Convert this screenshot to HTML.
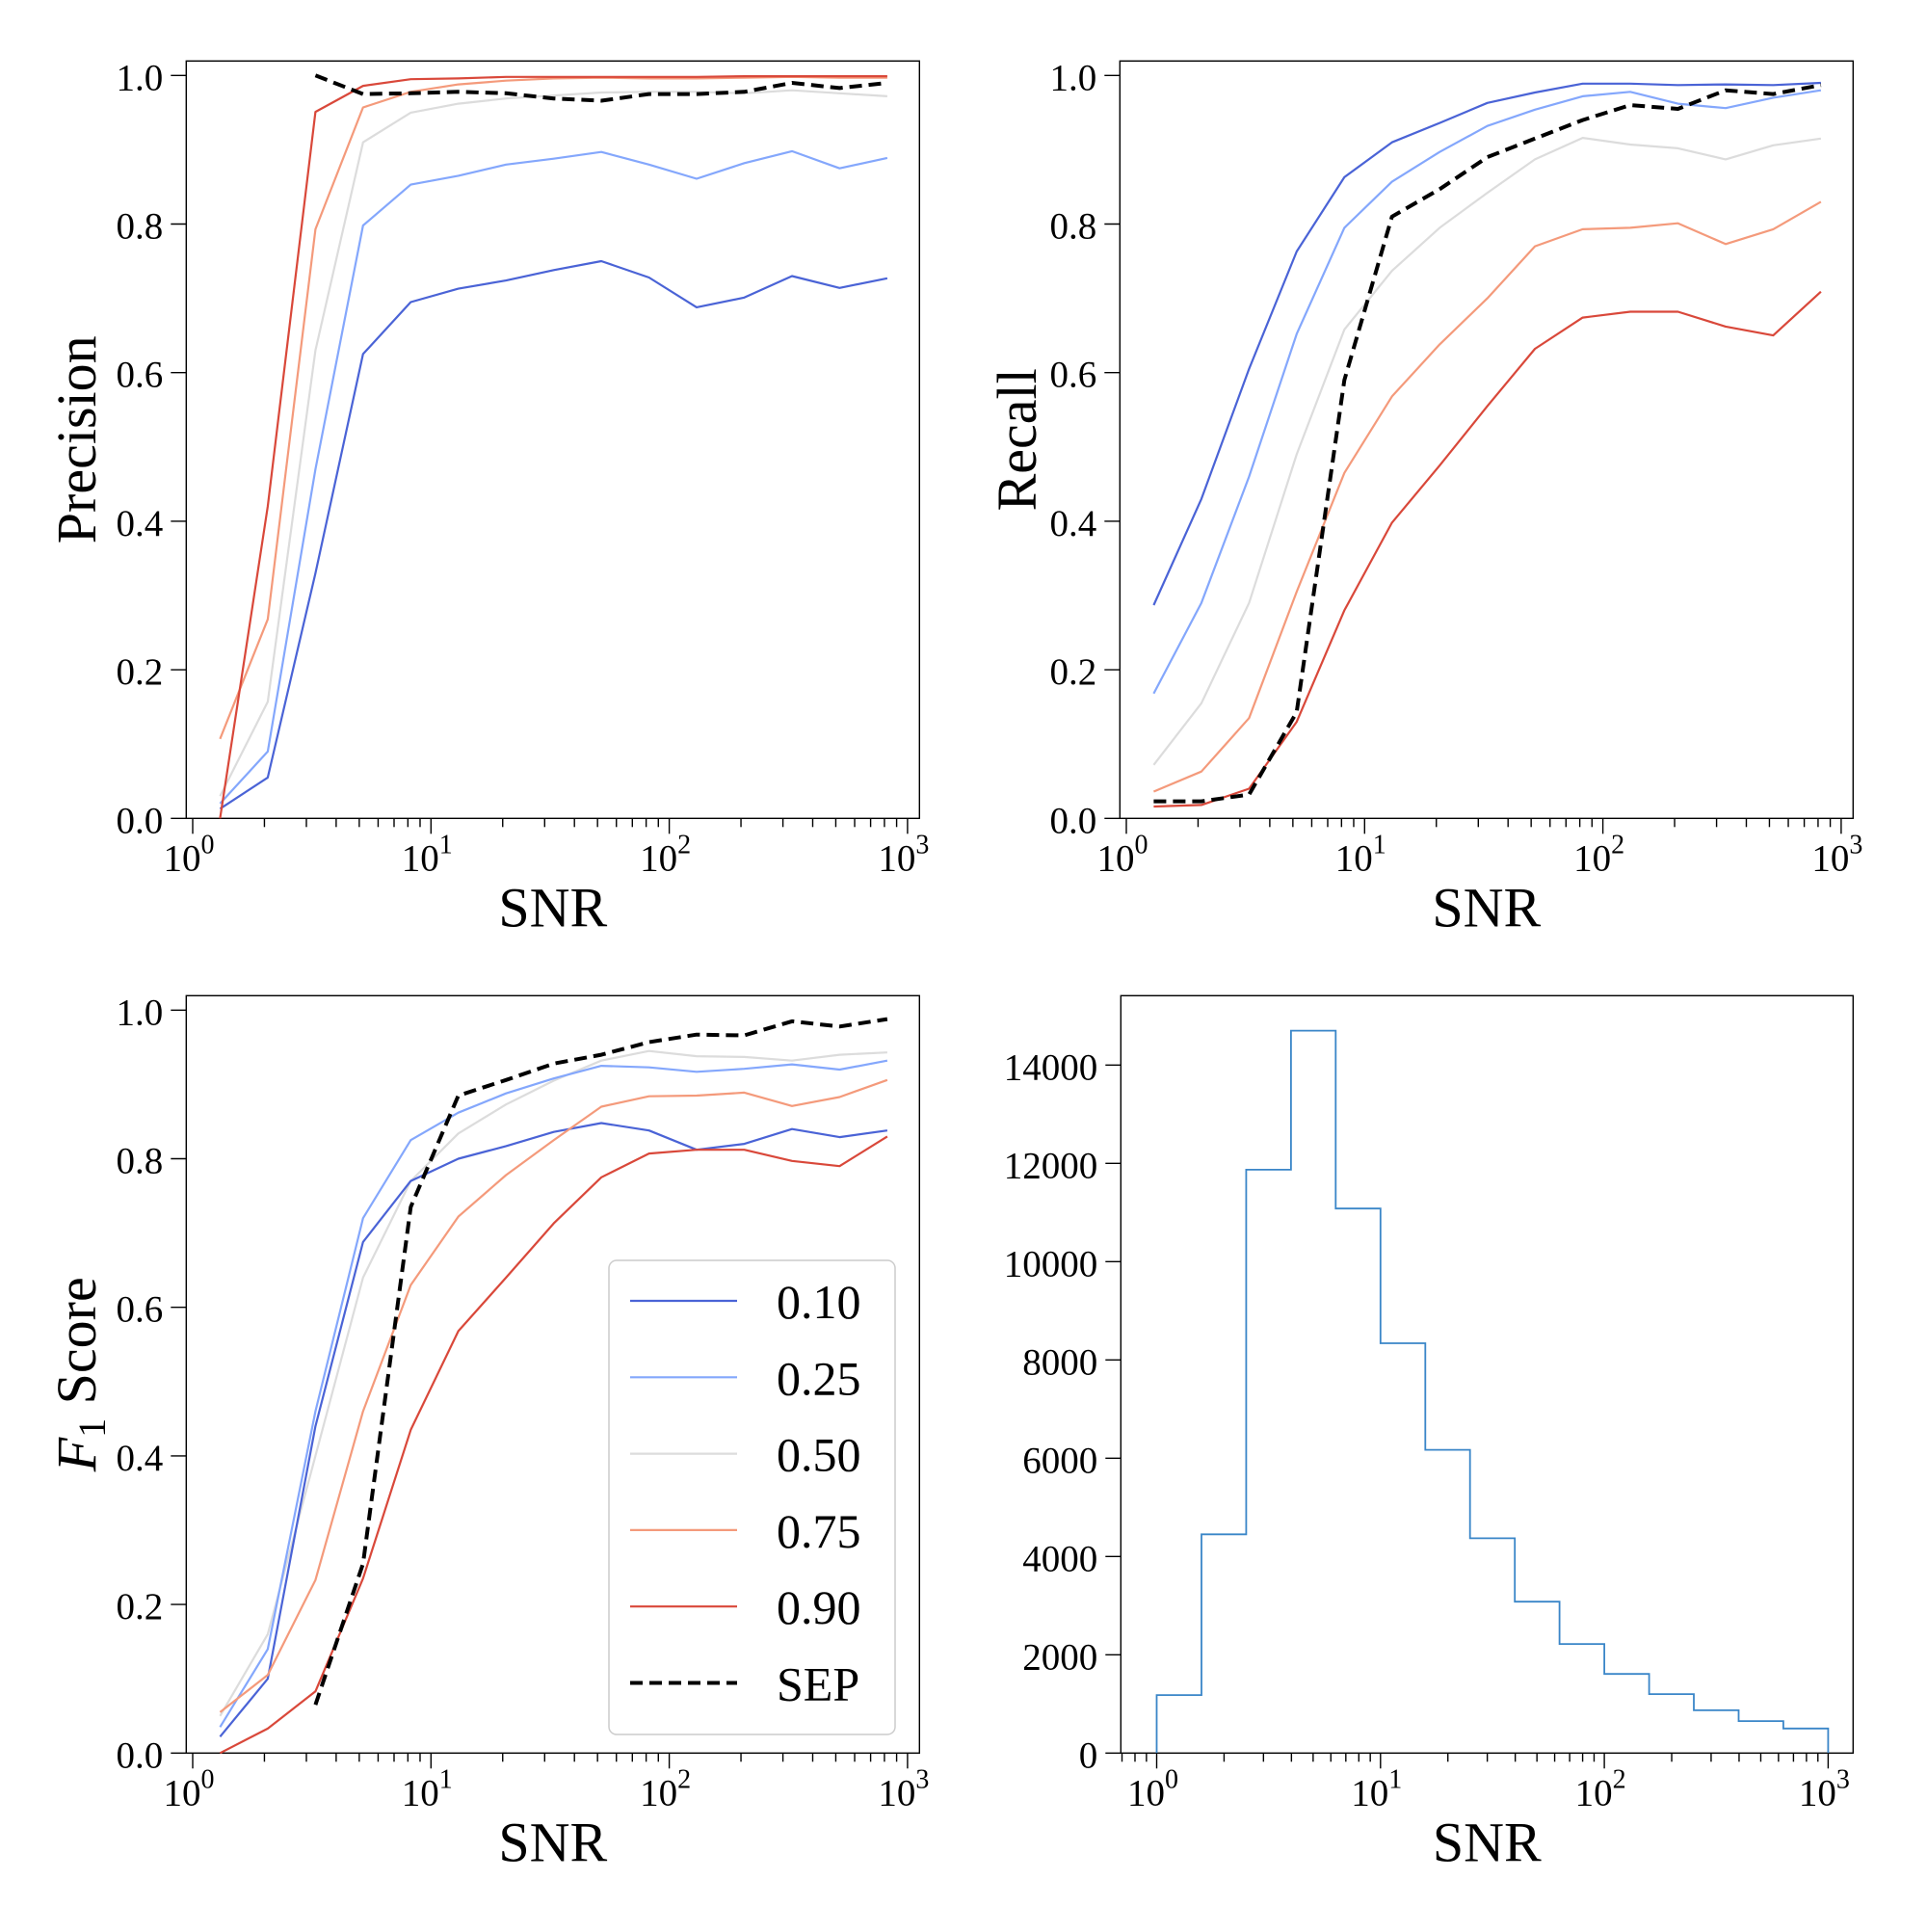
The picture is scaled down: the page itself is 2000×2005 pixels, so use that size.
<!DOCTYPE html>
<html><head><meta charset="utf-8"><style>
html,body{margin:0;padding:0;background:#fff;}
svg text{font-family:"Liberation Serif",serif;fill:#000;}
</style></head><body>
<svg id="s" width="2000" height="2000" xmlns="http://www.w3.org/2000/svg"></svg>
<script>
const S=document.getElementById('s');let h='';
const C={a:'#4a63d6',b:'#84a7fc',c:'#dcdcdc',d:'#f49a7b',e:'#d9483a'};
const LF=58;
function ax(L,T,R,B){
  h+=`<rect x="${L}" y="${T}" width="${R-L}" height="${B-T}" fill="none" stroke="#000" stroke-width="1.4"/>`;
}
function xticks(L,R,B,x0,dec){
  for(let d=-1;d<=3;d++){for(let m=1;m<10;m++){const x=x0+(d+Math.log10(m))*dec;if(x<L-0.5||x>R+0.5)continue;
    const len=m==1?16:9;h+=`<line x1="${x}" y1="${B}" x2="${x}" y2="${B+len}" stroke="#000" stroke-width="1.4"/>`;
    if(m==1){h+=`<text x="${x-4}" y="${B+54}" font-size="39" text-anchor="middle">10<tspan dy="-18" font-size="28">${d}</tspan></text>`;}}}
}
function yticks(L,y0,sc,vals,fmt){
  for(const v of vals){const y=y0-v*sc;h+=`<line x1="${L-16}" y1="${y}" x2="${L}" y2="${y}" stroke="#000" stroke-width="1.4"/>`;
  h+=`<text x="${L-24}" y="${y+15}" font-size="39" text-anchor="end">${fmt(v)}</text>`;}
}
function line(x0,dec,y0,sc,ys,col,k0,dash){
  let p=[];ys.forEach((v,i)=>{const k=i+k0;const x=x0+(0.115+0.2*k)*dec;p.push(x.toFixed(1)+','+(y0-v*sc).toFixed(1));});
  h+=`<polyline points="${p.join(' ')}" fill="none" stroke="${col}" stroke-width="${dash?4:2.2}" ${dash?'stroke-dasharray="13,7"':''} stroke-linejoin="round"/>`;
}
const yv=[0,0.2,0.4,0.6,0.8,1.0],f1=v=>v.toFixed(1);
const dec=247.3,sc=771;
const P={a:[0.013,0.055,0.33,0.625,0.695,0.713,0.724,0.738,0.75,0.728,0.688,0.701,0.73,0.714,0.727],
b:[0.02,0.09,0.47,0.798,0.853,0.865,0.88,0.888,0.897,0.88,0.861,0.882,0.898,0.875,0.889],
c:[0.03,0.157,0.63,0.91,0.95,0.962,0.969,0.973,0.977,0.978,0.978,0.976,0.98,0.976,0.972],
d:[0.107,0.268,0.793,0.957,0.978,0.988,0.993,0.996,0.997,0.996,0.996,0.997,0.998,0.997,0.997],
e:[0.0,0.42,0.951,0.986,0.995,0.996,0.998,0.998,0.998,0.998,0.998,0.999,0.999,0.999,0.999]};
const PS=[1.0,0.975,0.976,0.978,0.976,0.969,0.966,0.975,0.975,0.978,0.99,0.983,0.99];
const R={a:[0.287,0.43,0.605,0.763,0.863,0.91,0.936,0.963,0.977,0.989,0.989,0.987,0.988,0.987,0.99],
b:[0.168,0.29,0.46,0.652,0.795,0.857,0.897,0.932,0.954,0.972,0.978,0.962,0.956,0.97,0.98],
c:[0.072,0.155,0.29,0.49,0.658,0.737,0.795,0.842,0.887,0.916,0.907,0.902,0.887,0.906,0.915],
d:[0.036,0.063,0.135,0.305,0.465,0.568,0.638,0.7,0.77,0.793,0.795,0.801,0.773,0.793,0.83],
e:[0.016,0.018,0.04,0.13,0.28,0.398,0.475,0.555,0.632,0.674,0.682,0.682,0.662,0.65,0.709]};
const RS=[0.023,0.023,0.032,0.143,0.59,0.81,0.847,0.89,0.915,0.94,0.96,0.955,0.98,0.975,0.987];
const F={a:[0.022,0.1,0.44,0.688,0.77,0.8,0.817,0.836,0.848,0.838,0.812,0.82,0.84,0.829,0.838],
b:[0.035,0.14,0.46,0.72,0.825,0.862,0.888,0.908,0.925,0.923,0.917,0.921,0.927,0.92,0.932],
c:[0.05,0.16,0.4,0.64,0.77,0.834,0.873,0.905,0.932,0.945,0.938,0.937,0.932,0.94,0.943],
d:[0.055,0.105,0.233,0.46,0.63,0.722,0.778,0.825,0.87,0.884,0.885,0.889,0.871,0.883,0.906],
e:[0.0,0.033,0.083,0.235,0.435,0.568,0.64,0.713,0.775,0.807,0.812,0.812,0.797,0.79,0.83]};
const FS=[0.065,0.255,0.735,0.885,0.906,0.928,0.94,0.957,0.967,0.966,0.985,0.978,0.988];
function panel(L,T,R_,B,x0,data,sep,sk0,lab,lx){
  ax(L,T,R_,B);
  for(const k of ['c','b','a','d','e']) line(x0,dec,B,sc,data[k],C[k],0);
  line(x0,dec,B,sc,sep,'#000',sk0,true);
  xticks(L,R_,B,x0,dec);yticks(L,B,sc,yv,f1);
  h+=`<text x="${(L+R_)/2}" y="${B+112}" font-size="${LF}" text-anchor="middle">SNR</text>`;
  h+=`<text transform="translate(${lx},${(T+B)/2}) rotate(-90)" font-size="${LF}" text-anchor="middle">${lab}</text>`;
}
panel(193.3,63.3,954.3,849.3,200,P,PS,2,'Precision',99);
panel(1162.3,63.3,1923.3,849.3,1169,R,RS,0,'Recall',1075);
panel(193.3,1033.3,954.3,1819.3,200,F,FS,2,'<tspan font-style="italic">F</tspan><tspan font-size="40" dy="10">1</tspan><tspan dy="-10"> Score</tspan>',99);
h+=`<rect x="632" y="1308" width="297" height="492" rx="8" fill="#fff" fill-opacity="0.8" stroke="#ccc" stroke-width="1.5"/>`;
const lg=[['a','0.10'],['b','0.25'],['c','0.50'],['d','0.75'],['e','0.90'],['s','SEP']];
lg.forEach((l,i)=>{const y=1350+i*79.3;const col=l[0]=='s'?'#000':C[l[0]];
 h+=`<line x1="654" y1="${y}" x2="765" y2="${y}" stroke="${col}" stroke-width="${l[0]=='s'?4:2.2}" ${l[0]=='s'?'stroke-dasharray="13,7"':''}/>`;
 h+=`<text x="806" y="${y+18}" font-size="50">${l[1]}</text>`;});
const HL=1163.3,HT=1033.3,HR=1923.3,HB=1819.3,hx0=1200.5,hd=232.3,hs=714/14000;
ax(HL,HT,HR,HB);
const hv=[1180,4450,11870,14700,11080,8340,6170,4370,3080,2220,1610,1200,870,650,500];
let p=[`${hx0},${HB}`];hv.forEach((v,i)=>{const xa=hx0+0.2*i*hd,xb=hx0+0.2*(i+1)*hd,y=HB-v*hs;p.push(`${xa.toFixed(1)},${y.toFixed(1)}`,`${xb.toFixed(1)},${y.toFixed(1)}`);});
p.push(`${hx0+3*hd},${HB}`);
h+=`<polyline points="${p.join(' ')}" fill="none" stroke="#3a86c8" stroke-width="1.8"/>`;
for(let d=-1;d<=3;d++){for(let m=1;m<10;m++){const x=hx0+(d+Math.log10(m))*hd;if(x<HL||x>HR)continue;
  const len=m==1?16:9;h+=`<line x1="${x}" y1="${HB}" x2="${x}" y2="${HB+len}" stroke="#000" stroke-width="1.4"/>`;
  if(m==1)h+=`<text x="${x-4}" y="${HB+54}" font-size="39" text-anchor="middle">10<tspan dy="-18" font-size="28">${d}</tspan></text>`;}}
for(let v=0;v<=14000;v+=2000){const y=HB-v*hs;h+=`<line x1="${HL-16}" y1="${y}" x2="${HL}" y2="${y}" stroke="#000" stroke-width="1.4"/>`;
 h+=`<text x="${HL-24}" y="${y+15}" font-size="39" text-anchor="end">${v}</text>`;}
h+=`<text x="${(HL+HR)/2}" y="${HB+112}" font-size="${LF}" text-anchor="middle">SNR</text>`;
S.innerHTML=h;
</script>
</body></html>
